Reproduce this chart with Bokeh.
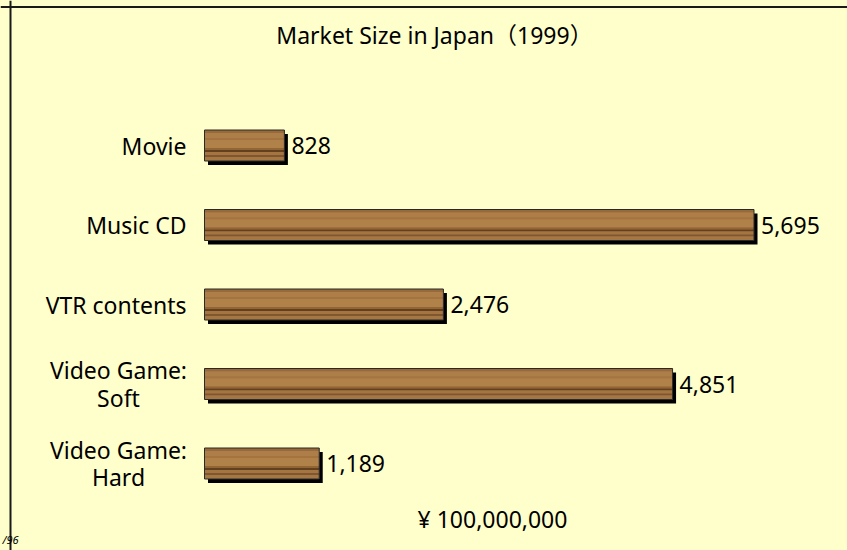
import numpy as np
from bokeh.plotting import figure
from bokeh.models import Range1d, Span, Label, ColumnDataSource, GlobalInlineStyleSheet
from bokeh.core.properties import value
from bokeh.embed import file_html
from bokeh.resources import INLINE

# ---- data ----
categories = ["Movie", "Music CD", "VTR contents", "Video Game:\nSoft", "Video Game:\nHard"]
values = [828, 5695, 2476, 4851, 1189]
title_text = "Market Size in Japan（1999）"
unit_text = "¥ 100,000,000"

# ---- layout constants (pixels) ----
W, H = 847, 550
BAR_X0 = 204                 # canvas x of value 0
PX_PER_UNIT = 549.5 / 5695   # horizontal scale
ROW0 = 145                   # canvas y (from top) of first row centre
ROW_STEP = 79.5              # pixel distance between rows
BAR_PX = 31                  # bar thickness
BG = "#FFFFCC"
FONT = "Noto Sans, Noto Sans CJK JP"
FS = "23px"

x_start = -BAR_X0 / PX_PER_UNIT
x_end = (W - BAR_X0) / PX_PER_UNIT
y_top = -ROW0 / ROW_STEP
y_bot = (H - ROW0) / ROW_STEP

p = figure(width=W, height=H, output_backend="svg", toolbar_location=None,
           x_range=Range1d(x_start, x_end), y_range=Range1d(y_bot, y_top),
           x_axis_type=None, y_axis_type=None, min_border=0,
           background_fill_color=BG, border_fill_color=BG, outline_line_color=None)
p.grid.visible = False
p.stylesheets = [GlobalInlineStyleSheet(css="body { background-color: #FFFFCC; }")]

vals = np.array(values, dtype=float)
ys = np.arange(len(categories), dtype=float)
bh = BAR_PX / ROW_STEP

# shadow
dx = 3.5 / PX_PER_UNIT
dy = 4 / ROW_STEP
p.hbar(y=ys + dy, left=dx, right=vals + dx, height=bh, fill_color="black", line_color=None)

# base wood colour
p.hbar(y=ys, left=0, right=vals, height=bh, fill_color="#A87942", line_color=None)

# wood grain stripes (top px, bottom px, colour) relative to bar top
stripes = [
    (0, 3, "#966A3A"),
    (3, 8, "#AD7E47"),
    (8, 10, "#A37440"),
    (10, 18, "#B0824A"),
    (18, 20, "#926535"),
    (20, 22, "#62401F"),
    (22, 25, "#A47541"),
    (25, 27, "#7E5630"),
    (27, 31, "#A57743"),
]
for t, b, c in stripes:
    centre = (-BAR_PX / 2 + (t + b) / 2) / ROW_STEP
    p.hbar(y=ys + centre, left=0, right=vals, height=(b - t) / ROW_STEP,
           fill_color=c, line_color=None)

# thin border
p.hbar(y=ys, left=0, right=vals, height=bh, fill_color=None, line_color="#2A2A2A", line_width=1)

# value labels
p.text(x=vals, y=ys, text=[f"{v:,}" for v in values], x_offset=7,
       text_align="left", text_baseline="middle", text_font=value(FONT),
       text_font_size=FS, text_color="black")

# category labels
multi = ["\n" in c for c in categories]
src = ColumnDataSource(dict(
    x=np.zeros(len(categories)), y=ys, text=categories,
    align=["center" if m else "right" for m in multi],
    xoff=[-86 if m else -18 for m in multi],
))
p.text(x="x", y="y", text="text", source=src, x_offset="xoff", text_align="align",
       text_baseline="middle", text_font=value(FONT), text_font_size=FS,
       text_color="black", text_line_height=0.85)

# frame lines (left and top)
p.add_layout(Span(location=x_start + 10 / PX_PER_UNIT, dimension="height",
                  line_color="#1A1A1A", line_width=2))
p.add_layout(Span(location=y_top + 6.5 / ROW_STEP, dimension="width",
                  line_color="#1A1A1A", line_width=2))

# title
p.add_layout(Label(x=434, y=H - 34, x_units="screen", y_units="screen", text=title_text,
                   text_align="center", text_baseline="middle", text_font=FONT,
                   text_font_size=FS, text_color="black"))
# unit label
p.add_layout(Label(x=492, y=H - 518, x_units="screen", y_units="screen", text=unit_text,
                   text_align="center", text_baseline="middle", text_font=FONT,
                   text_font_size=FS, text_color="black"))
# footer mark
p.add_layout(Label(x=2, y=4, x_units="screen", y_units="screen", text="/96",
                   text_align="left", text_baseline="bottom", text_font=FONT,
                   text_font_style="italic", text_font_size="11px", text_color="black"))

open("out.html", "w").write(file_html(p, INLINE))
